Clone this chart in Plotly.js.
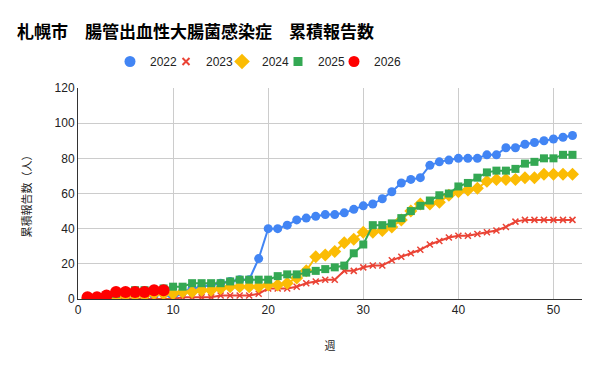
<!DOCTYPE html>
<html>
<head>
<meta charset="utf-8">
<script src="https://cdn.plot.ly/plotly-3.0.1.min.js"></script>
<style>html,body{margin:0;padding:0;background:#fff;}#chart{width:601px;height:371px;}</style>
</head>
<body>
<div id="chart"></div>
<script>
const weeks = [1,2,3,4,5,6,7,8,9,10,11,12,13,14,15,16,17,18,19,20,21,22,23,24,25,26,27,28,29,30,31,32,33,34,35,36,37,38,39,40,41,42,43,44,45,46,47,48,49,50,51,52];
const weeks2026 = [1,2,3,4,5,6,7,8,9];
const y2022 = [0,0,1,1,1,2,2,2,3,0,4,6,7,8,9,10,11,11,23,40,40,42,45,46,47,48,48,49,51,53,54,57,61,66,68,69,76,78,79,80,80,80,82,82,86,86,88,89,90,91,92,93];
const y2023 = [0,0,0,0,0,0,0,0,0,0,1,1,1,1,2,2,2,2,3,6,6,6,7,9,10,11,11,16,16,18,19,19,22,24,26,28,31,33,35,36,36,37,38,39,41,44,45,45,45,45,45,45];
const y2024 = [0,0,1,1,2,2,2,3,3,3,4,4,5,5,6,7,7,7,7,8,8,9,12,16,24,25,27,32,34,38,38,39,41,45,50,54,54,55,59,61,62,63,67,68,68,68,69,69,71,71,71,71];
const y2025 = [0,1,2,3,4,5,5,5,6,7,7,9,9,9,9,10,11,11,11,11,13,14,14,15,16,17,18,19,26,31,42,42,43,46,50,53,56,59,60,64,66,69,72,73,73,74,77,78,80,80,82,82];
const y2026 = [1,1,2,4,4,4,4,5,5];
const seriesNames = ['2022','2023','2024','2025','2026'];
const xTicks = [0,10,20,30,40,50];
const yTicks = [0,20,40,60,80,100,120];
const yTitle = '累積報告数（人）';
const xTitle = '週';

const FONT = "Arial, 'Liberation Sans', 'Noto Sans CJK JP', sans-serif";
const CJK = "'Noto Sans CJK JP', 'Noto Sans CJK SC', sans-serif";

const colors = ['#4285f4', '#ea4335', '#fbbc04', '#34a853', '#ff0000'];
const markers = [
  {symbol: 'circle', size: 9, color: colors[0]},
  {symbol: 'x-thin', size: 6, color: colors[1], line: {color: colors[1], width: 1.5}},
  {symbol: 'diamond', size: 10, color: colors[2]},
  {symbol: 'square', size: 8, color: colors[3]},
  {symbol: 'circle', size: 12, color: colors[4]}
];
const xs = [weeks, weeks, weeks, weeks, weeks2026];
const ys = [y2022, y2023, y2024, y2025, y2026];

const traces = [];
for (let i = 0; i < 5; i++) {
  traces.push({x: xs[i], y: ys[i], name: seriesNames[i], mode: 'lines+markers', showlegend: false,
    line: {color: colors[i], width: 2}, marker: markers[i], hoverinfo: 'skip'});
}
// legend entries (marker only, as in the reference)
const legendMarkers = [
  {symbol: 'circle', size: 11, color: colors[0]},
  {symbol: 'x-thin', size: 7, color: colors[1], line: {color: colors[1], width: 2}},
  {symbol: 'diamond', size: 12, color: colors[2]},
  {symbol: 'square', size: 9, color: colors[3]},
  {symbol: 'circle', size: 11, color: colors[4]}
];
for (let i = 0; i < 5; i++) {
  const t = {x: [null], y: [null], name: seriesNames[i], mode: 'markers', showlegend: true,
    marker: legendMarkers[i]};
  if (i === 4) t.legendwidth = 40;
  traces.push(t);
}

const layout = {
  width: 601, height: 371,
  margin: {l: 78, r: 19, t: 88, b: 72, pad: 0},
  paper_bgcolor: '#fff', plot_bgcolor: '#fff',
  font: {family: FONT, size: 12, color: '#222'},
  title: {text: '札幌市　腸管出血性大腸菌感染症　累積報告数', x: 17/601, xanchor: 'left', xref: 'container',
          y: 1 - 32/371, yanchor: 'middle', yref: 'container',
          font: {family: CJK, size: 17, color: '#000', weight: 'bold'}},
  showlegend: true,
  legend: {orientation: 'h', x: (110-78)/504, xanchor: 'left', y: 1 + (88-61.5)/211, yanchor: 'middle',
           entrywidth: 11, entrywidthmode: 'pixels',
           font: {family: FONT, size: 12, color: '#222'}, itemclick: false, bgcolor: 'rgba(0,0,0,0)',
           traceorder: 'normal'},
  xaxis: {range: [0, 53], tickvals: xTicks, ticktext: xTicks.map(String), showgrid: true, gridcolor: '#cccccc', gridwidth: 1,
          zeroline: false, showline: true, linecolor: '#333', linewidth: 1, ticks: '', ticklen: 0,
          tickfont: {family: FONT, size: 12, color: '#222'},
          title: {text: xTitle, font: {family: CJK, size: 11, color: '#222'}, standoff: 25}, automargin: false, fixedrange: true},
  yaxis: {range: [0, 120], tickvals: yTicks, ticktext: yTicks.map(String), showgrid: true, gridcolor: '#cccccc', gridwidth: 1,
          zeroline: false, showline: true, linecolor: '#333', linewidth: 1, ticks: '', ticklen: 0,
          tickfont: {family: FONT, size: 12, color: '#222'}, automargin: false, fixedrange: true},
  annotations: [
    {text: yTitle, xref: 'paper', yref: 'paper', x: (25-78)/504, y: 0.5, xanchor: 'center', yanchor: 'middle',
     textangle: -90, showarrow: false, font: {family: CJK, size: 11, color: '#222'}}
  ]
};

Plotly.newPlot('chart', traces, layout, {displayModeBar: false, staticPlot: true});
</script>
</body>
</html>
